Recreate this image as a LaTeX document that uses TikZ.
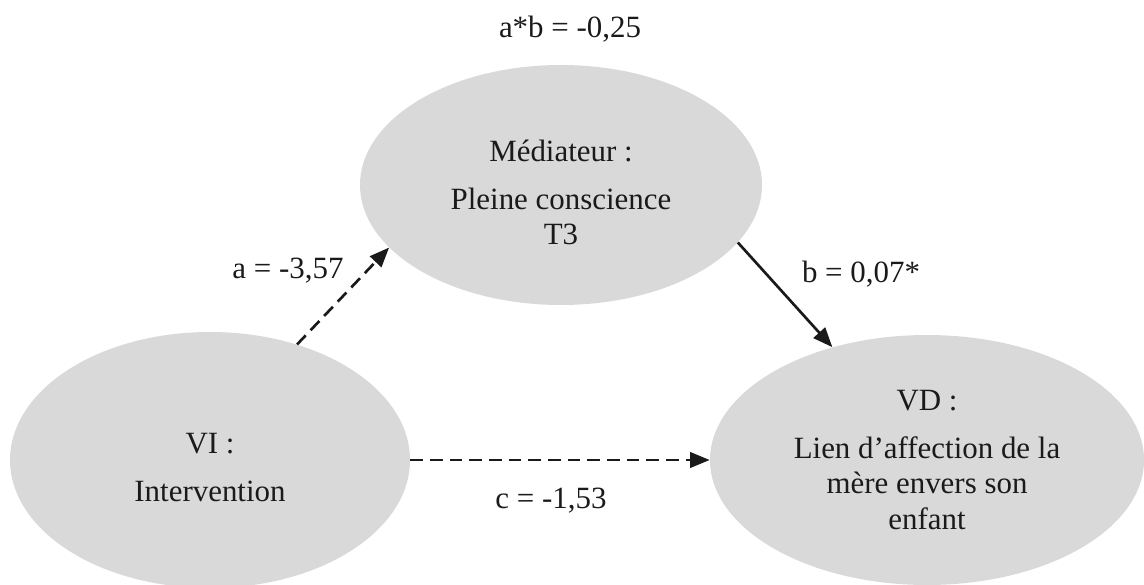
\documentclass[tikz,border=0pt]{standalone}
\usepackage{fontspec}
\setmainfont{Liberation Serif}
\usepackage{tikz}
\usetikzlibrary{arrows.meta,shapes.geometric}
\definecolor{Nuage}{HTML}{D9D9D9}
\definecolor{Encre}{HTML}{1A1A1A}

\begin{document}
\begin{tikzpicture}[>=Triangle,font=\fontsize{22}{25}\selectfont]
    \tikzset{
      bulle/.style={ellipse,fill=Nuage,inner sep=0pt,align=center,text=Encre},
      lien/.style={-{Triangle[length=14pt,width=11pt]},line width=1.9pt,draw=Encre},
      pointille/.style={lien,dash pattern=on 9pt off 5pt},
      coef/.style={text=Encre}
    }
    \useasboundingbox (0,0) rectangle (28.6,14.6);
    \node[bulle,minimum width=10.05cm,minimum height=6.0cm] (med) at (14.025,9.975)
          {\rule{0pt}{26pt}M\'ediateur :\\[9pt]Pleine conscience\\T3};
    \node[bulle,minimum width=10.0cm,minimum height=6.4cm] (vi) at (5.25,3.1)
          {\rule{0pt}{25pt}VI :\\[9pt]Intervention};
    \node[bulle,minimum width=10.85cm,minimum height=6.25cm] (vd) at (23.175,3.1)
          {VD :\\[9pt]Lien d’affection de la\\m\`ere envers son\\enfant};

    \draw[pointille] (vi.53) -- (med.200);
    \draw[lien] (med.-18) -- (vd.130);
    \draw[pointille] (vi) -- (vd);

    \node[coef] (ab) at (14.25,13.875) {a*b = -0,25};
    \node[coef] (a) at (7.2,7.825) {a = -3,57};
    \node[coef] (b) at (21.525,7.75) {b = 0,07*};
    \node[coef] (c) at (13.775,2.075) {c = -1,53};
\end{tikzpicture}
\end{document}
